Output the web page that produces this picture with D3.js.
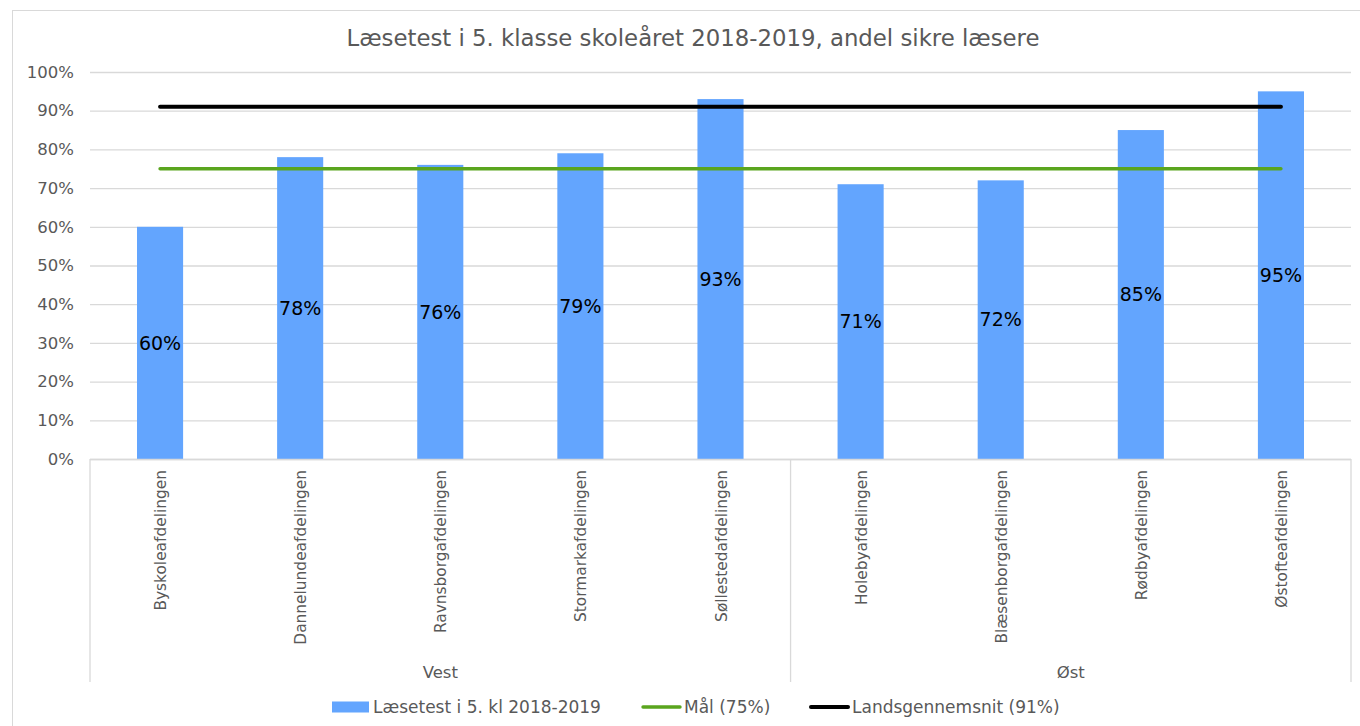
<!DOCTYPE html>
<html>
<head>
<meta charset="utf-8">
<script src="https://cdn.jsdelivr.net/npm/d3@7"></script>
<style>
  body { margin: 0; background: #fff; }
  text { font-family: "DejaVu Sans", Verdana, sans-serif; }
</style>
</head>
<body>
<div id="chart"></div>
<script>
const categories = ["Byskoleafdelingen", "Dannelundeafdelingen", "Ravnsborgafdelingen", "Stormarkafdelingen", "Søllestedafdelingen",
  "Holebyafdelingen", "Blæsenborgafdelingen", "Rødbyafdelingen", "Østofteafdelingen"];
const groups = [
  { name: "Vest", count: 5 },
  { name: "Øst", count: 4 }
];
const values = [0.60, 0.78, 0.76, 0.79, 0.93, 0.71, 0.72, 0.85, 0.95];
const goal = 0.75;
const national = 0.91;
const yTicks = [0, 0.1, 0.2, 0.3, 0.4, 0.5, 0.6, 0.7, 0.8, 0.9, 1.0];
const seriesNames = ["Læsetest i 5. kl 2018-2019", "Mål (75%)", "Landsgennemsnit (91%)"];

const width = 1360, height = 726;
const margin = { left: 90, right: 9, top: 72, bottom: 267 };
const colors = { bar: "#63a5fe", goal: "#5aa51e", national: "#000000", grid: "#d9d9d9", text: "#595959" };

const svg = d3.select("#chart").append("svg")
  .attr("width", width)
  .attr("height", height);

// chart border (right and bottom edges fall outside the picture)
svg.append("rect")
  .attr("x", 12.5).attr("y", 10.5)
  .attr("width", 1400).attr("height", 760)
  .attr("fill", "none")
  .attr("stroke", "#d9d9d9");

const x = d3.scaleBand()
  .domain(categories)
  .range([margin.left, width - margin.right])
  .paddingInner(0.671)
  .paddingOuter(0.3355);

const y = d3.scaleLinear()
  .domain([0, 1])
  .range([height - margin.bottom, margin.top]);

// gridlines + y labels
const yAxis = svg.append("g")
  .attr("transform", `translate(${margin.left},0)`)
  .call(d3.axisLeft(y).tickValues(yTicks).tickFormat(d3.format(".0%"))
    .tickSize(-(width - margin.left - margin.right)).tickPadding(16));
yAxis.select(".domain").remove();
yAxis.selectAll(".tick line").attr("stroke", colors.grid).attr("stroke-width", 1.3);
yAxis.selectAll(".tick text")
  .attr("fill", colors.text)
  .style("font-size", "16.5px");

// bars
svg.append("g")
  .selectAll("rect")
  .data(values)
  .join("rect")
  .attr("x", (d, i) => x(categories[i]))
  .attr("y", d => y(d))
  .attr("width", x.bandwidth())
  .attr("height", d => y(0) - y(d))
  .attr("fill", colors.bar);

// reference lines, from first to last bar centre
const cx = c => x(c) + x.bandwidth() / 2;
const lineX1 = cx(categories[0]);
const lineX2 = cx(categories[categories.length - 1]);

svg.append("line")
  .attr("x1", lineX1).attr("x2", lineX2)
  .attr("y1", y(goal)).attr("y2", y(goal))
  .attr("stroke", colors.goal)
  .attr("stroke-width", 3.4)
  .attr("stroke-linecap", "round");

svg.append("line")
  .attr("x1", lineX1).attr("x2", lineX2)
  .attr("y1", y(national)).attr("y2", y(national))
  .attr("stroke", colors.national)
  .attr("stroke-width", 4)
  .attr("stroke-linecap", "round");

// data labels
svg.append("g")
  .selectAll("text")
  .data(values)
  .join("text")
  .attr("x", (d, i) => cx(categories[i]))
  .attr("y", d => (y(d) + y(0)) / 2)
  .attr("dy", "0.35em")
  .attr("text-anchor", "middle")
  .attr("fill", "#000")
  .style("font-size", "19px")
  .text(d => d3.format(".0%")(d));

// x axis with group level
const axisY = y(0);
const axisBottom = 682;
const step = x.step();
const g = svg.append("g");
g.append("line")
  .attr("x1", margin.left).attr("x2", width - margin.right)
  .attr("y1", axisY + 0.5).attr("y2", axisY + 0.5)
  .attr("stroke", colors.grid).attr("stroke-width", 1.3);

let start = 0;
const boundaries = [0];
groups.forEach(gr => { start += gr.count; boundaries.push(start); });
boundaries.forEach(b => {
  const bx = margin.left + b * step;
  g.append("line")
    .attr("x1", bx).attr("x2", bx)
    .attr("y1", axisY).attr("y2", axisBottom)
    .attr("stroke", colors.grid).attr("stroke-width", 1.3);
});

categories.forEach(c => {
  g.append("text")
    .attr("transform", `translate(${cx(c) + 6},${axisY + 11}) rotate(-90)`)
    .attr("text-anchor", "end")
    .attr("fill", colors.text)
    .style("font-size", "15.4px")
    .text(c);
});

let acc = 0;
groups.forEach(gr => {
  const gx = margin.left + (acc + gr.count / 2) * step;
  acc += gr.count;
  g.append("text")
    .attr("x", gx).attr("y", 672)
    .attr("dy", "0.35em")
    .attr("text-anchor", "middle")
    .attr("fill", colors.text)
    .style("font-size", "16.5px")
    .text(gr.name);
});

// title
svg.append("text")
  .attr("x", 693).attr("y", 38)
  .attr("dy", "0.35em")
  .attr("text-anchor", "middle")
  .attr("fill", colors.text)
  .style("font-size", "22.8px")
  .text("Læsetest i 5. klasse skoleåret 2018-2019, andel sikre læsere");

// legend
const legend = svg.append("g").attr("transform", "translate(0,707)");
const legendItems = [
  { name: seriesNames[0], type: "rect", color: colors.bar, x: 332 },
  { name: seriesNames[1], type: "line", color: colors.goal, x: 643 },
  { name: seriesNames[2], type: "line", color: colors.national, x: 811 }
];
legendItems.forEach(item => {
  if (item.type === "rect") {
    legend.append("rect")
      .attr("x", item.x).attr("y", -5.5)
      .attr("width", 37).attr("height", 11)
      .attr("fill", item.color);
  } else {
    legend.append("line")
      .attr("x1", item.x).attr("x2", item.x + 37)
      .attr("y1", 0).attr("y2", 0)
      .attr("stroke", item.color)
      .attr("stroke-width", item.color === colors.national ? 4 : 3.4)
      .attr("stroke-linecap", "round");
  }
  legend.append("text")
    .attr("x", item.x + 41)
    .attr("y", 0)
    .attr("dy", "0.35em")
    .attr("fill", colors.text)
    .style("font-size", "17px")
    .text(item.name);
});
</script>
</body>
</html>
